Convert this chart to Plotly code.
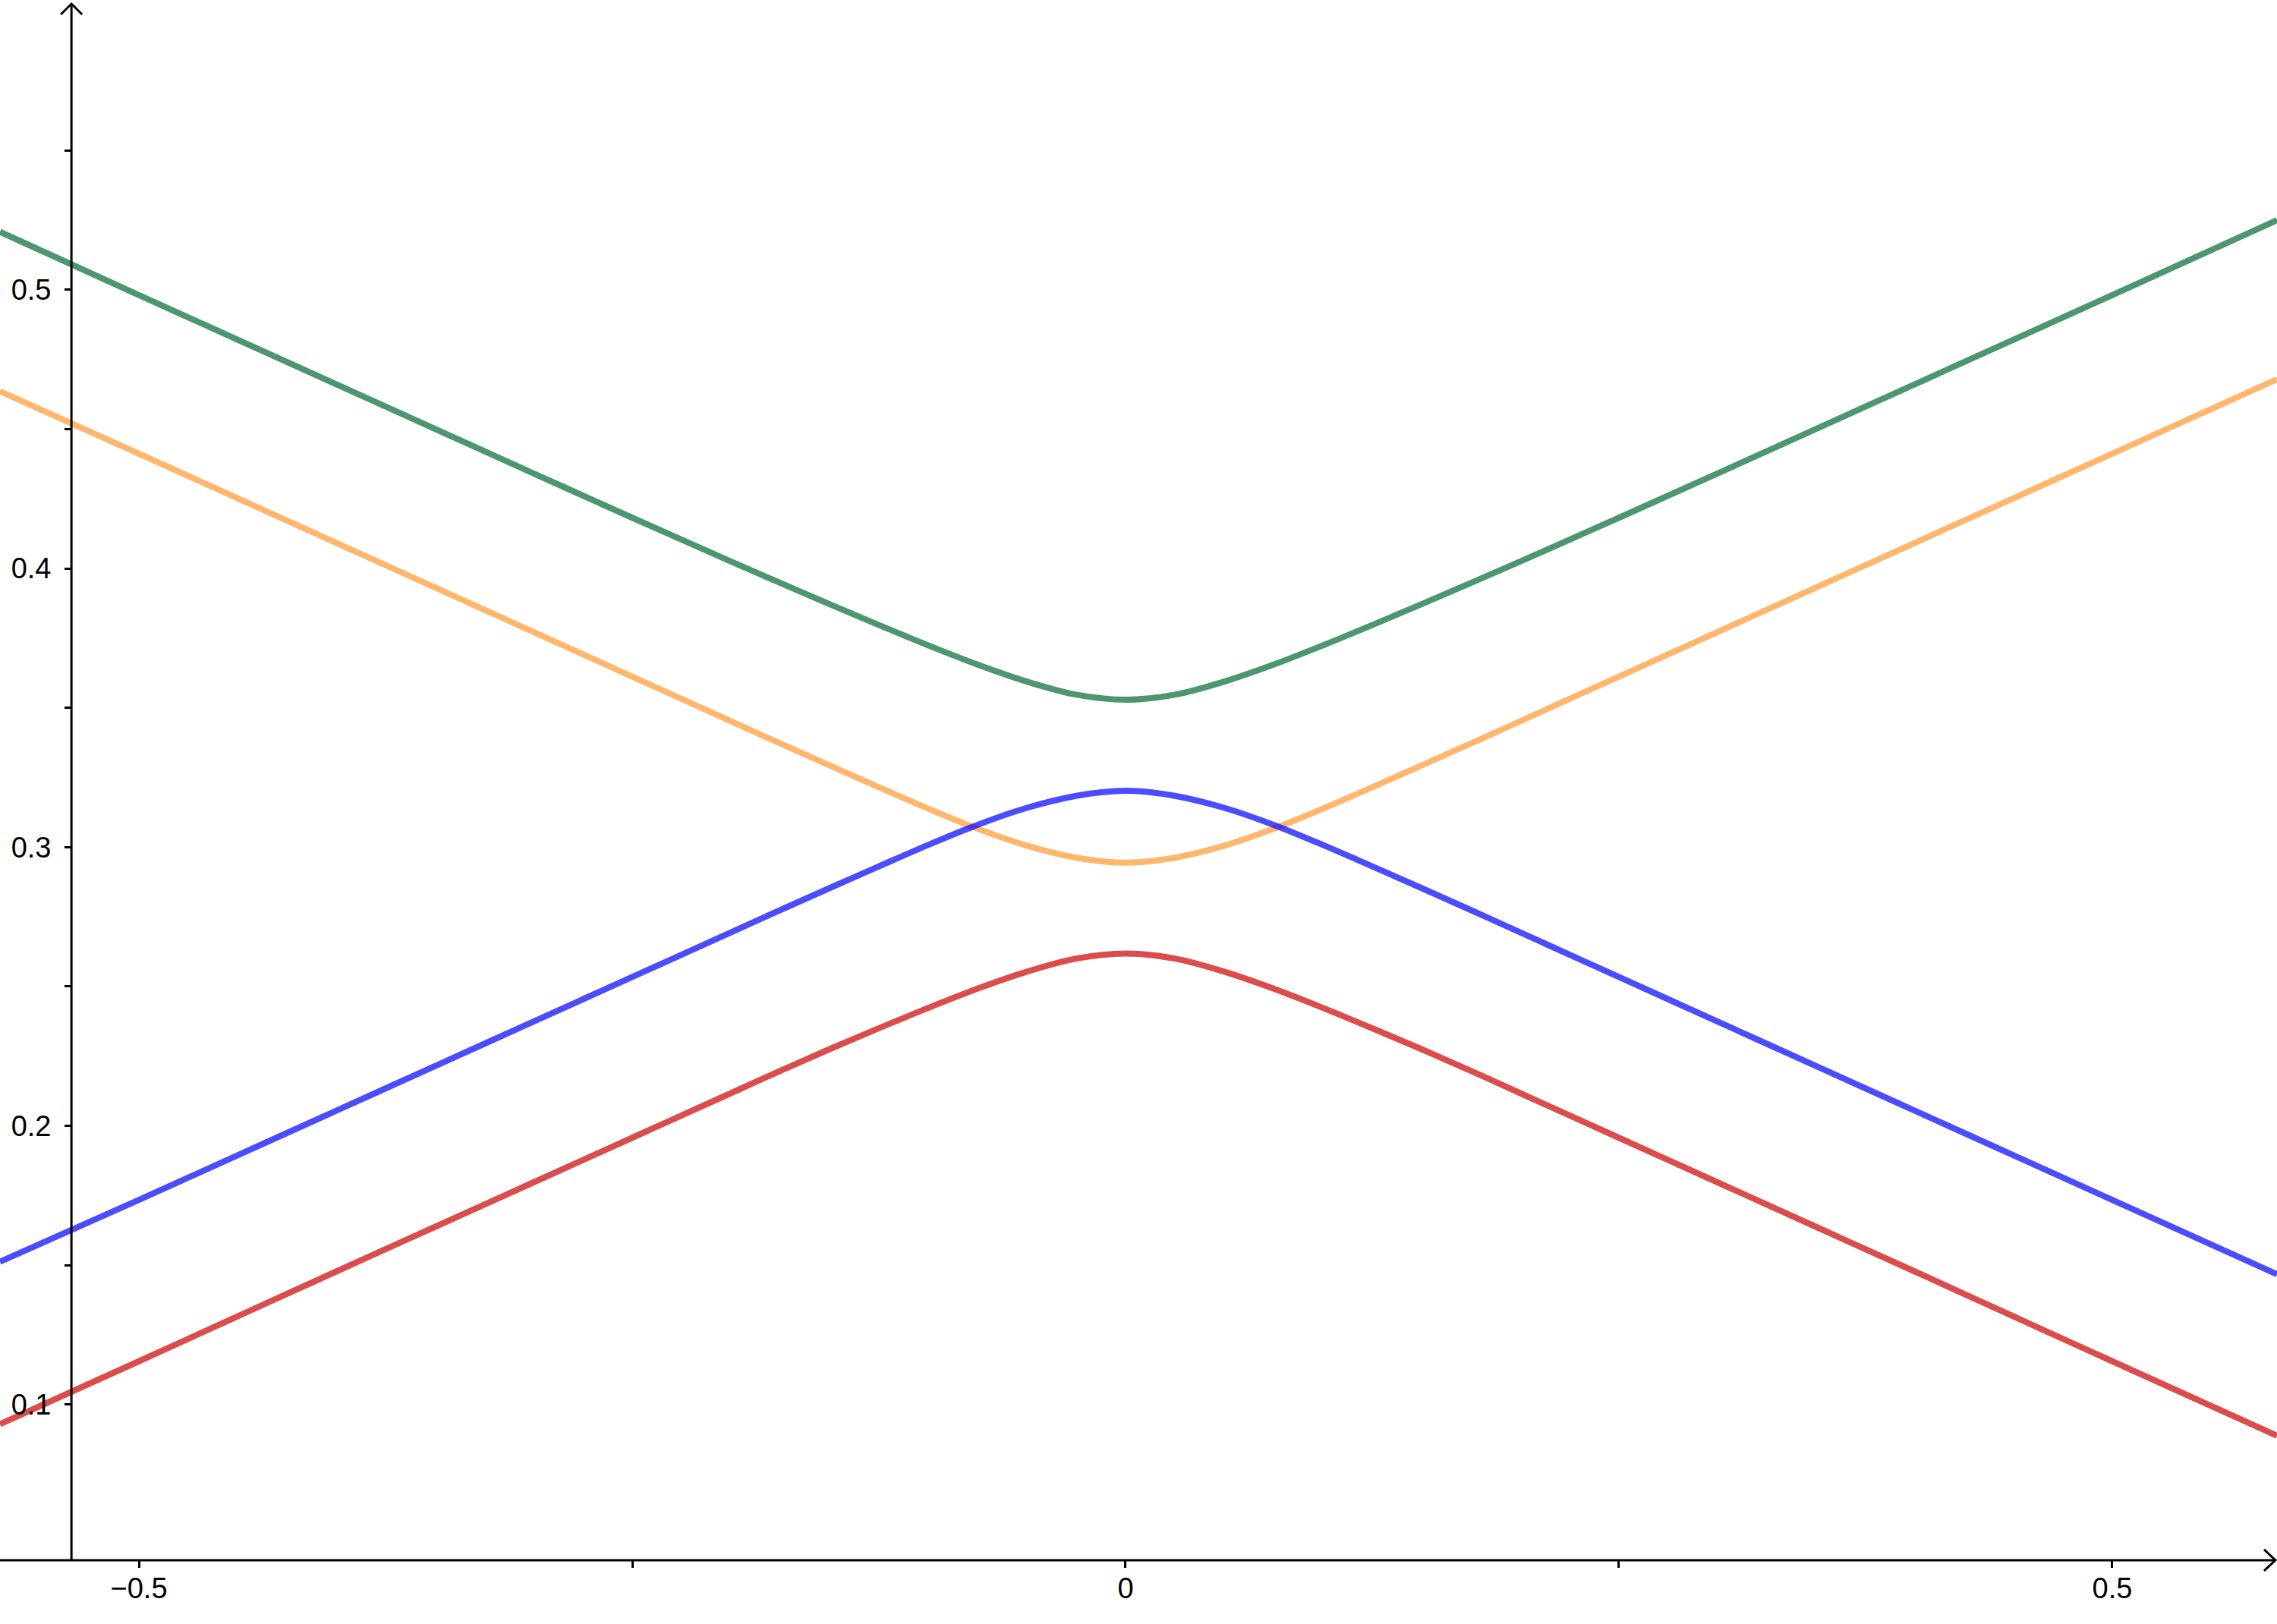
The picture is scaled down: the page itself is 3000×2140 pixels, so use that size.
import plotly.graph_objects as go

# ---- data ----
x_vals = [-0.5704, -0.5, -0.45, -0.4, -0.35, -0.3, -0.25,
          -0.2, -0.175, -0.15, -0.125, -0.1, -0.075, -0.05, -0.025, 0.0,
          0.025, 0.05, 0.075, 0.1, 0.125, 0.15, 0.175, 0.2,
          0.25, 0.3, 0.35, 0.4, 0.45, 0.5, 0.5835]

green_vals = [0.5208, 0.4981, 0.4821, 0.4661, 0.4501, 0.4341, 0.4182,
              0.4025, 0.3948, 0.3872, 0.3797, 0.3724, 0.3655, 0.3594, 0.3547, 0.3529,
              0.3547, 0.3594, 0.3655, 0.3724, 0.3797, 0.3872, 0.3948, 0.4025,
              0.4182, 0.4341, 0.4501, 0.4661, 0.4821, 0.4981, 0.5250]
orange_vals = [0.4636, 0.4412, 0.4252, 0.4092, 0.3932, 0.3772, 0.3612,
               0.3452, 0.3372, 0.3293, 0.3215, 0.3138, 0.3066, 0.3005, 0.2962, 0.2944,
               0.2962, 0.3005, 0.3066, 0.3138, 0.3215, 0.3293, 0.3372, 0.3452,
               0.3612, 0.3772, 0.3932, 0.4092, 0.4252, 0.4412, 0.4679]
blue_vals = [0.1512, 0.1734, 0.1894, 0.2054, 0.2214, 0.2374, 0.2534,
             0.2694, 0.2774, 0.2853, 0.2931, 0.3008, 0.3080, 0.3141, 0.3184, 0.3202,
             0.3184, 0.3141, 0.3080, 0.3008, 0.2931, 0.2853, 0.2774, 0.2694,
             0.2534, 0.2374, 0.2214, 0.2054, 0.1894, 0.1734, 0.1467]
red_vals = [0.0929, 0.1155, 0.1316, 0.1477, 0.1637, 0.1797, 0.1957,
            0.2117, 0.2197, 0.2275, 0.2350, 0.2423, 0.2492, 0.2553, 0.2600, 0.2618,
            0.2600, 0.2553, 0.2492, 0.2423, 0.2350, 0.2275, 0.2197, 0.2117,
            0.1957, 0.1797, 0.1637, 0.1477, 0.1316, 0.1155, 0.0888]

x_tickvals = [-0.5, -0.25, 0.0, 0.25, 0.5]
x_ticktext = ["\u22120.5", "", "0", "", "0.5"]
y_tickvals = [0.1, 0.15, 0.2, 0.25, 0.3, 0.35, 0.4, 0.45, 0.5, 0.55]
y_ticktext = ["0.1", "", "0.2", "", "0.3", "", "0.4", "", "0.5", ""]

# ---- view settings ----
W, H = 3000, 2140
X_RANGE = [-0.5704, 0.5835]
Y_RANGE = [0.0212, 0.604]
X_AXIS_AT_Y = 0.0441
Y_AXIS_AT_X = -0.5342

series = [
    ("green", green_vals, "rgba(0,105,51,0.7)"),
    ("orange", orange_vals, "rgba(255,152,48,0.7)"),
    ("blue", blue_vals, "rgba(0,0,255,0.7)"),
    ("red", red_vals, "rgba(204,0,0,0.7)"),
]

fig = go.Figure()
for name, vals, col in series:
    fig.add_trace(go.Scatter(
        x=x_vals, y=vals, mode="lines", name=name,
        line=dict(color=col, width=8, shape="spline", smoothing=1.0, simplify=False),
        showlegend=False, hoverinfo="skip",
    ))

px_x = (X_RANGE[1] - X_RANGE[0]) / W
px_y = (Y_RANGE[1] - Y_RANGE[0]) / H

axis_line = dict(color="black", width=3)
tip_x = X_RANGE[1] - 2 * px_x
tip_y = Y_RANGE[1] - 5 * px_y
shapes = [
    dict(type="line", xref="x", yref="y", x0=X_RANGE[0], x1=tip_x,
         y0=X_AXIS_AT_Y, y1=X_AXIS_AT_Y, line=axis_line),
    dict(type="line", xref="x", yref="y", x0=Y_AXIS_AT_X, x1=Y_AXIS_AT_X,
         y0=X_AXIS_AT_Y, y1=tip_y, line=axis_line),
    dict(type="path", xref="x", yref="y",
         path=f"M {tip_x - 15*px_x},{X_AXIS_AT_Y + 14*px_y} L {tip_x},{X_AXIS_AT_Y} "
              f"L {tip_x - 15*px_x},{X_AXIS_AT_Y - 14*px_y}",
         line=axis_line),
    dict(type="path", xref="x", yref="y",
         path=f"M {Y_AXIS_AT_X - 14*px_x},{tip_y - 14*px_y} L {Y_AXIS_AT_X},{tip_y} "
              f"L {Y_AXIS_AT_X + 14*px_x},{tip_y - 14*px_y}",
         line=axis_line),
]

font = dict(family="Liberation Sans, Arial, sans-serif", size=38, color="black")

fig.update_layout(
    width=W, height=H,
    margin=dict(l=0, r=0, t=0, b=0, pad=0),
    paper_bgcolor="white", plot_bgcolor="white",
    shapes=shapes,
    xaxis=dict(
        range=X_RANGE, anchor="free",
        position=(X_AXIS_AT_Y - Y_RANGE[0]) / (Y_RANGE[1] - Y_RANGE[0]),
        showgrid=False, zeroline=False, showline=False,
        tickmode="array", tickvals=x_tickvals, ticktext=x_ticktext,
        ticks="outside", ticklen=9, tickwidth=3, tickcolor="black",
        tickfont=font, automargin=False, ticklabelstandoff=-6,
    ),
    yaxis=dict(
        range=Y_RANGE, anchor="free",
        position=(Y_AXIS_AT_X - X_RANGE[0]) / (X_RANGE[1] - X_RANGE[0]),
        showgrid=False, zeroline=False, showline=False,
        tickmode="array", tickvals=y_tickvals, ticktext=y_ticktext,
        ticks="outside", ticklen=9, tickwidth=3, tickcolor="black",
        tickfont=font, automargin=False, ticklabelstandoff=10,
    ),
)

fig.write_html("out.html", config={"displayModeBar": False},
               post_script="document.body.style.margin='0';")
